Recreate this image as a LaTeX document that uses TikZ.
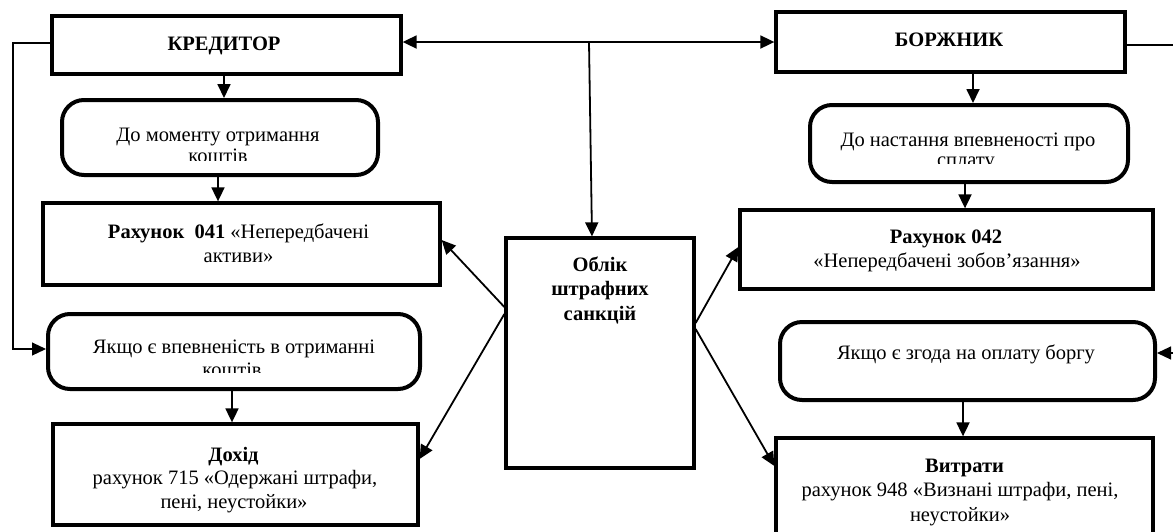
\documentclass[tikz,border=0pt]{standalone}
\usepackage{fontspec}
\setmainfont{Liberation Serif}
\usetikzlibrary{arrows.meta}
\begin{document}
\begin{tikzpicture}[x=1pt,y=-1pt,
  sbox/.style={draw=black, line width=3.3pt, inner sep=0pt},
  rbox/.style={draw=black, line width=4pt, rounded corners=22pt, inner sep=0pt},
  txt/.style={anchor=base, inner sep=0pt, outer sep=0pt, font=\fontsize{20.5}{23.5}\selectfont},
  conn/.style={line width=1.8pt, -{Triangle[length=14pt,width=13pt]}},
  sideconn/.style={line width=1.1pt, -{Triangle[length=14pt,width=13pt]}},
  both/.style={line width=1.8pt, {Triangle[length=14pt,width=13pt]}-{Triangle[length=14pt,width=13pt]}}
]
\useasboundingbox (0,0) rectangle (1173,531);

% boxes
\node[sbox, minimum width=349pt, minimum height=58pt] (kred) at (226.5,45) {};
\node[sbox, minimum width=349pt, minimum height=60pt] (bor) at (950.5,42) {};
\node[rbox, minimum width=316pt, minimum height=75pt] (r1) at (220,137.5) {};
\node[rbox, minimum width=318pt, minimum height=77pt] (r2) at (969,143.5) {};
\node[sbox, minimum width=397pt, minimum height=82pt] (a041) at (241.5,244) {};
\node[sbox, minimum width=413pt, minimum height=79pt] (a042) at (946.5,249.5) {};
\node[sbox, minimum width=188pt, minimum height=230pt] (oblik) at (600,353) {};
\node[rbox, minimum width=372pt, minimum height=75pt] (y1) at (234,351.5) {};
\node[rbox, minimum width=375pt, minimum height=78pt] (y2) at (967.5,361) {};
\node[sbox, minimum width=365pt, minimum height=101pt] (doh) at (235.5,474.5) {};
\node[sbox, minimum width=377pt, minimum height=106pt] (vyt) at (964.5,491) {};

% texts
\node[txt] (kredT) at (224,50) {\textbf{КРЕДИТОР}};
\node[txt] (borT) at (949,46.5) {\textbf{БОРЖНИК}};
\begin{scope}
  \clip (62,100) rectangle (378,160);
  \node[txt] (r1T1) at (218,141.5) {До моменту отримання};
  \node[txt] (r1T2) at (218,162.5) {коштів};
\end{scope}
\begin{scope}
  \clip (810,105) rectangle (1128,163.5);
  \node[txt] (r2T1) at (968,146.5) {До настання впевненості про};
  \node[txt] (r2T2) at (966,166.5) {сплату};
\end{scope}
\node[txt] (a041T1) at (238.5,238.5) {\textbf{Рахунок~~041} «Непередбачені};
\node[txt] (a041T2) at (238.5,262) {активи»};
\node[txt] (a042T1) at (946,243.5) {\textbf{Рахунок 042}};
\node[txt] (a042T2) at (947,267.5) {«Непередбачені зобов’язання»};
\node[txt] (oblT1) at (600,271) {\textbf{Облік}};
\node[txt] (oblT2) at (600,295.5) {\textbf{штрафних}};
\node[txt] (oblT3) at (600,320) {\textbf{санкцій}};
\begin{scope}
  \clip (48,314) rectangle (420,372.5);
  \node[txt] (y1T1) at (234,353.5) {Якщо є впевненість в отриманні};
  \node[txt] (y1T2) at (232,376.5) {коштів};
\end{scope}
\node[txt] (y2T1) at (966,359.5) {Якщо є згода на оплату боргу};
\node[txt] (dohT1) at (233.5,461) {\textbf{Дохід}};
\node[txt] (dohT2) at (235,484.5) {рахунок 715 «Одержані штрафи,};
\node[txt] (dohT3) at (234,508) {пені, неустойки»};
\node[txt] (vytT1) at (964.5,472) {\textbf{Витрати}};
\node[txt] (vytT2) at (960,496.5) {рахунок 948 «Визнані штрафи, пені,};
\node[txt] (vytT3) at (960,521) {неустойки»};

% junction / bend points
\coordinate (j) at (589,42);
\coordinate (L1) at (13,43);
\coordinate (L2) at (13,349);
\coordinate (R1) at (1178,45);
\coordinate (R2) at (1178,353);

% connectors
\draw[both] (kred.east |- j) -- (bor.west |- j);
\draw[conn] (j) -- (oblik.north -| 592,0);
\draw[conn] (kred.south -| 224,0) -- (r1.north -| 224,0);
\draw[conn] (r1.south -| 218,0) -- (a041.north -| 218,0);
\draw[conn] (bor.south -| 973,0) -- (r2.north -| 973,0);
\draw[conn] (r2.south -| 965,0) -- (a042.north -| 965,0);
\draw[conn] (y1.south -| 232,0) -- (doh.north -| 232,0);
\draw[conn] (y2.south -| 963,0) -- (vyt.north -| 963,0);
\draw[sideconn] (kred.west |- L1) -- (L1) -- (L2) -- (y1.west |- L2);
\draw[sideconn] (bor.east |- R1) -- (R1) -- (R2) -- (y2.east |- R2);
\draw[conn] (oblik.west |- 0,307) -- (a041.east |- 0,240);
\draw[conn] (oblik.west |- 0,314) -- (doh.east |- 0,459);
\draw[conn] (oblik.east |- 0,323) -- (a042.west |- 0,247);
\draw[conn] (oblik.east |- 0,329) -- (vyt.west |- 0,466);
\end{tikzpicture}
\end{document}
